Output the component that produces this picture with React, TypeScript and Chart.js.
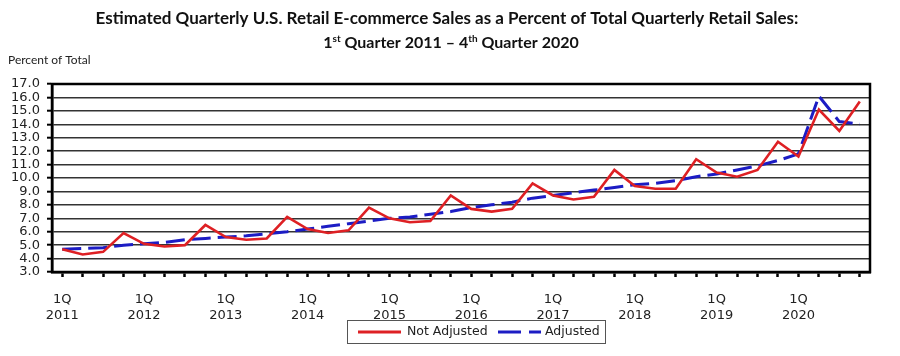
import React, { useEffect, useRef } from 'react';
import { Chart, registerables } from 'chart.js';

Chart.register(...registerables);

// ---- data ----
const years = ['2011', '2012', '2013', '2014', '2015', '2016', '2017', '2018', '2019', '2020'];
const quarterNames = ['1Q', '2Q', '3Q', '4Q'];

const notAdjusted = [
  4.7, 4.3, 4.5, 5.9,
  5.1, 4.9, 5.0, 6.5,
  5.6, 5.4, 5.5, 7.1,
  6.2, 5.9, 6.1, 7.8,
  7.0, 6.7, 6.8, 8.7,
  7.7, 7.5, 7.7, 9.6,
  8.7, 8.4, 8.6, 10.6,
  9.4, 9.2, 9.2, 11.4,
  10.4, 10.1, 10.6, 12.7,
  11.6, 15.1, 13.5, 15.7,
];

const adjusted = [
  4.7, 4.75, 4.8, 5.0,
  5.1, 5.2, 5.4, 5.5,
  5.6, 5.7, 5.85, 6.0,
  6.2, 6.4, 6.6, 6.8,
  7.0, 7.1, 7.3, 7.5,
  7.8, 8.0, 8.2, 8.5,
  8.7, 8.9, 9.1, 9.3,
  9.5, 9.6, 9.8, 10.1,
  10.3, 10.6, 10.9, 11.3,
  11.8, 16.1, 14.2, 14.0,
];

const yMin = 3;
const yMax = 17;
const yStep = 1;

const seriesLabels = ['Not Adjusted', 'Adjusted'];
const titleLine1 = 'Estimated Quarterly U.S. Retail E-commerce Sales as a Percent of Total Quarterly Retail Sales:';
const titleLine2Parts: [string, boolean][] = [
  ['1', false], ['st', true], [' Quarter 2011 \u2013 4', false], ['th', true], [' Quarter 2020', false],
];
const yAxisTitle = 'Percent of Total';

const categories = years.flatMap((y) => quarterNames.map((q) => `${q} ${y}`));

const RED = 'rgb(222,32,36)';
const BLUE = 'rgb(28,28,196)';
const DASH = [19, 7];
const TITLE_FONT = 'Lato, "Open Sans", sans-serif';
const TICK_FONT = '"DejaVu Sans", Verdana, sans-serif';

const overlay = {
  id: 'overlay',
  afterDraw(chart: any) {
    const { ctx, chartArea: a } = chart;
    ctx.save();
    // plot frame
    ctx.strokeStyle = '#000';
    ctx.lineWidth = 2.5;
    ctx.strokeRect(a.left, a.top, a.right - a.left, a.bottom - a.top);

    // title
    ctx.fillStyle = '#111';
    ctx.textBaseline = 'alphabetic';
    ctx.textAlign = 'left';
    ctx.font = `bold 17px ${TITLE_FONT}`;
    const w1 = ctx.measureText(titleLine1).width;
    ctx.fillText(titleLine1, 447 - w1 / 2, 24);

    const mainFont = `bold 16px ${TITLE_FONT}`;
    const supFont = `bold 10px ${TITLE_FONT}`;
    let total = 0;
    for (const [t, sup] of titleLine2Parts) {
      ctx.font = sup ? supFont : mainFont;
      total += ctx.measureText(t).width;
    }
    let x = 451 - total / 2;
    for (const [t, sup] of titleLine2Parts) {
      ctx.font = sup ? supFont : mainFont;
      ctx.fillText(t, x, sup ? 42 : 48);
      x += ctx.measureText(t).width;
    }

    // y-axis title
    ctx.font = `12px ${TITLE_FONT}`;
    ctx.fillStyle = '#222';
    ctx.fillText(yAxisTitle, 8, 64);

    // legend
    const lx = 347, ly = 320, lw = 258, lh = 23;
    ctx.strokeStyle = '#555';
    ctx.lineWidth = 1;
    ctx.strokeRect(lx + 0.5, ly + 0.5, lw, lh);
    const cy = ly + lh / 2 + 0.5;
    ctx.font = `12.5px ${TICK_FONT}`;
    ctx.textBaseline = 'middle';
    ctx.fillStyle = '#222';
    // red
    ctx.strokeStyle = RED;
    ctx.lineWidth = 3;
    ctx.setLineDash([]);
    ctx.beginPath();
    ctx.moveTo(358, cy);
    ctx.lineTo(401, cy);
    ctx.stroke();
    ctx.fillText(chart.data.datasets[0].label, 407, cy);
    // blue
    ctx.strokeStyle = BLUE;
    ctx.setLineDash([23, 8]);
    ctx.beginPath();
    ctx.moveTo(498, cy);
    ctx.lineTo(541, cy);
    ctx.stroke();
    ctx.setLineDash([]);
    ctx.fillText(chart.data.datasets[1].label, 545, cy);
    ctx.restore();
  },
};

export default function App() {
  const ref = useRef<HTMLCanvasElement | null>(null);

  useEffect(() => {
    document.body.style.margin = '0';
    const canvas = ref.current;
    if (!canvas) return;
    const chart = new Chart(canvas, {
      type: 'line',
      data: {
        labels: categories,
        datasets: [
          {
            label: seriesLabels[0],
            data: notAdjusted,
            borderColor: RED,
            backgroundColor: RED,
            borderWidth: 2.6,
            pointRadius: 0,
            tension: 0,
          },
          {
            label: seriesLabels[1],
            data: adjusted,
            borderColor: BLUE,
            backgroundColor: BLUE,
            borderWidth: 3,
            borderDash: DASH,
            pointRadius: 0,
            tension: 0,
          },
        ],
      },
      options: {
        animation: false,
        responsive: false,
        devicePixelRatio: 1,
        layout: { padding: { left: 0, top: 84, right: 30, bottom: 0 } },
        plugins: {
          legend: { display: false },
          title: { display: false },
          tooltip: { enabled: false },
        },
        scales: {
          x: {
            type: 'category',
            offset: true,
            afterFit: (s: any) => { s.height = 84; },
            grid: {
              offset: false,
              drawOnChartArea: false,
              drawTicks: true,
              tickLength: 5,
              tickColor: '#000',
              tickWidth: 2.5,
            },
            border: { display: true, color: '#000', width: 2.5 },
            ticks: {
              autoSkip: false,
              maxRotation: 0,
              minRotation: 0,
              padding: 14,
              color: '#222',
              font: { family: TICK_FONT, size: 13, lineHeight: 1.25 },
              callback: (_v: any, i: number) => {
                if (i % 4 !== 0) return '';
                const [q, y] = categories[i].split(' ');
                return [q, y];
              },
            },
          },
          y: {
            min: yMin,
            max: yMax,
            afterFit: (s: any) => { s.width = 52; },
            grid: {
              color: '#333',
              lineWidth: 1.4,
              drawTicks: true,
              tickLength: 5,
              tickColor: '#000',
              tickWidth: 2,
            },
            border: { display: true, color: '#000', width: 2.5 },
            ticks: {
              stepSize: yStep,
              autoSkip: false,
              padding: 7,
              color: '#222',
              font: { family: TICK_FONT, size: 13 },
              callback: (v: any) => Number(v).toFixed(1),
            },
          },
        },
      },
      plugins: [overlay],
    });
    return () => chart.destroy();
  }, []);

  return (
    <canvas ref={ref} width={900} height={356} style={{ display: 'block', width: 900, height: 356 }} />
  );
}
